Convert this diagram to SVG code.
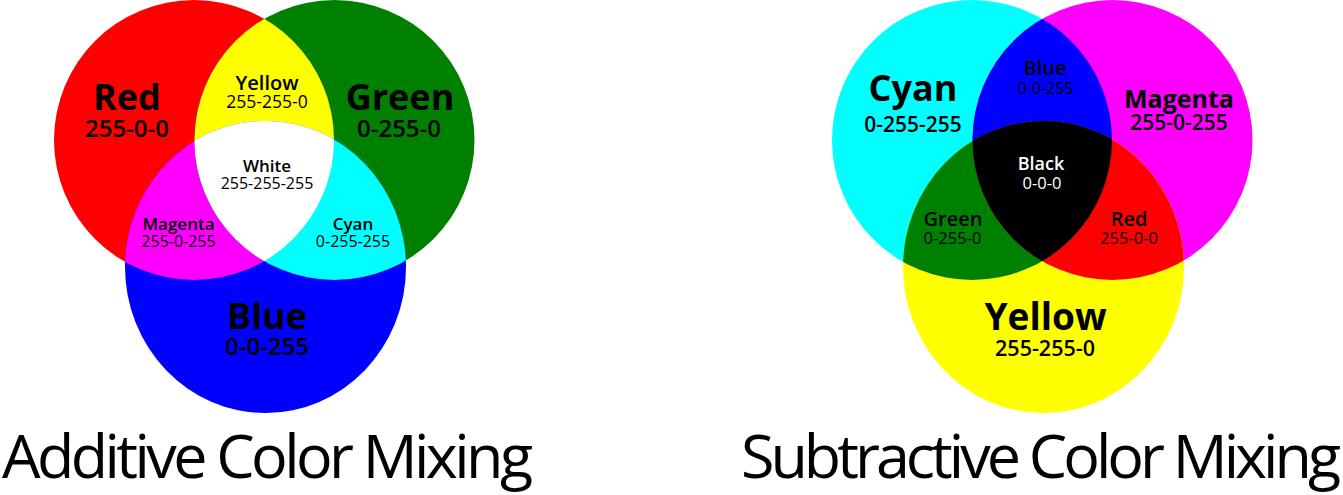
<svg xmlns="http://www.w3.org/2000/svg" width="1343" height="495" viewBox="0 0 1343 495">
  <style>
    text { font-family: "Open Sans", "Noto Sans", "DejaVu Sans", sans-serif; text-anchor: middle; fill: #000; }
    .big { font-weight: 700; }
    .name { font-weight: 600; }
    .num { font-weight: 400; }
    .bnum { font-weight: 600; }
    .inv { fill: #fff; }
    .title { font-weight: 400; font-size: 61px; text-anchor: start; }
  </style>
  <defs>
    <clipPath id="clipTL"><circle cx="194" cy="140" r="140"/></clipPath>
    <clipPath id="clipTR"><circle cx="334.5" cy="140" r="140"/></clipPath>
  </defs>
  <rect width="1343" height="495" fill="#fff"/>

  <!-- Additive -->
  <g id="add-red"><circle cx="194" cy="140" r="140" fill="#ff0000"/></g>
  <g id="add-green"><circle cx="334.5" cy="140" r="140" fill="#008000"/></g>
  <g id="add-blue"><ellipse cx="265.5" cy="267" rx="140.5" ry="146" fill="#0000ff"/></g>
  <g id="add-yellow"><circle cx="334.5" cy="140" r="140" fill="#ffff00" clip-path="url(#clipTL)"/></g>
  <g id="add-magenta"><ellipse cx="265.5" cy="267" rx="140.5" ry="146" fill="#ff00ff" clip-path="url(#clipTL)"/></g>
  <g id="add-cyan"><ellipse cx="265.5" cy="267" rx="140.5" ry="146" fill="#00ffff" clip-path="url(#clipTR)"/></g>
  <g id="add-white"><g clip-path="url(#clipTR)"><ellipse cx="265.5" cy="267" rx="140.5" ry="146" fill="#ffffff" clip-path="url(#clipTL)"/></g></g>

  <g id="add-labels">
    <text class="big" x="127" y="110" font-size="36">Red</text>
    <text class="bnum" x="127" y="137" font-size="24">255-0-0</text>
    <text class="big" x="400" y="110" font-size="36">Green</text>
    <text class="bnum" x="399" y="137" font-size="24">0-255-0</text>
    <text class="name" x="267" y="89.5" font-size="20">Yellow</text>
    <text class="num" x="267" y="108" font-size="17.5">255-255-0</text>
    <text class="name" x="267" y="172" font-size="17">White</text>
    <text class="num" x="267" y="189" font-size="16">255-255-255</text>
    <text class="name" x="178.5" y="230" font-size="17">Magenta</text>
    <text class="num" x="178.5" y="247" font-size="16">255-0-255</text>
    <text class="name" x="353" y="229.5" font-size="17">Cyan</text>
    <text class="num" x="353" y="247" font-size="16">0-255-255</text>
    <text class="big" x="267" y="328.5" font-size="36">Blue</text>
    <text class="bnum" x="267" y="355" font-size="24">0-0-255</text>
  </g>

  <!-- Subtractive -->
  <g id="sub-cyan"><circle cx="194" cy="140" r="140" fill="#00ffff" transform="translate(778,0)"/></g>
  <g id="sub-magenta"><circle cx="334.5" cy="140" r="140" fill="#ff00ff" transform="translate(778,0)"/></g>
  <g id="sub-yellow"><ellipse cx="265.5" cy="267" rx="140.5" ry="146" fill="#ffff00" transform="translate(778,0)"/></g>
  <g id="sub-blue"><circle cx="334.5" cy="140" r="140" fill="#0000ff" clip-path="url(#clipTL)" transform="translate(778,0)"/></g>
  <g id="sub-green"><ellipse cx="265.5" cy="267" rx="140.5" ry="146" fill="#008000" clip-path="url(#clipTL)" transform="translate(778,0)"/></g>
  <g id="sub-red"><ellipse cx="265.5" cy="267" rx="140.5" ry="146" fill="#ff0000" clip-path="url(#clipTR)" transform="translate(778,0)"/></g>
  <g id="sub-black"><g transform="translate(778,0)"><g clip-path="url(#clipTR)"><ellipse cx="265.5" cy="267" rx="140.5" ry="146" fill="#000000" clip-path="url(#clipTL)"/></g></g></g>

  <g id="sub-labels">
    <text class="big" x="913" y="101" font-size="36">Cyan</text>
    <text class="bnum" x="913" y="132" font-size="21">0-255-255</text>
    <text class="big" x="1179" y="107.5" font-size="25">Magenta</text>
    <text class="bnum" x="1179" y="130" font-size="21">255-0-255</text>
    <text class="name" x="1045" y="75" font-size="20">Blue</text>
    <text class="num" x="1045.5" y="93.5" font-size="16">0-0-255</text>
    <text class="name inv" x="1041" y="170" font-size="18">Black</text>
    <text class="num inv" x="1042" y="189" font-size="16.5">0-0-0</text>
    <text class="name" x="953" y="226" font-size="20">Green</text>
    <text class="num" x="952.5" y="244" font-size="16.5">0-255-0</text>
    <text class="name" x="1129" y="226" font-size="20">Red</text>
    <text class="num" x="1129" y="244" font-size="16.5">255-0-0</text>
    <text class="big" x="1045.5" y="329.5" font-size="37">Yellow</text>
    <text class="bnum" x="1045" y="356" font-size="21.5">255-255-0</text>
  </g>

  <g id="titles">
    <text class="title" x="2" y="478" textLength="531">Additive Color Mixing</text>
    <text class="title" x="741" y="478" textLength="600">Subtractive Color Mixing</text>
  </g>
</svg>
